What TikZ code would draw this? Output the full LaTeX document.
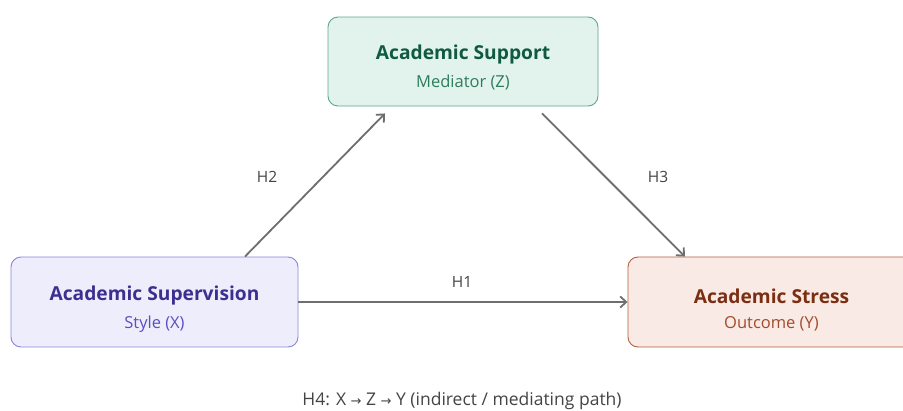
\documentclass[tikz,border=0pt]{standalone}
\usepackage{fontspec}
\setmainfont{Open Sans}
\newfontfamily\arrowfont{DejaVu Sans}
\usetikzlibrary{arrows.meta}

\definecolor{zfill}{HTML}{E1F3EC}
\definecolor{zline}{HTML}{5FA88A}
\definecolor{ztitle}{HTML}{0F5A40}
\definecolor{zsub}{HTML}{2E7D5E}
\definecolor{xfill}{HTML}{EDEDFC}
\definecolor{xline}{HTML}{8A85D8}
\definecolor{xtitle}{HTML}{3C2F8F}
\definecolor{xsub}{HTML}{5A4FC0}
\definecolor{yfill}{HTML}{FAEAE5}
\definecolor{yline}{HTML}{B5603F}
\definecolor{ytitle}{HTML}{7A2E12}
\definecolor{ysub}{HTML}{A34A2A}
\definecolor{pathgray}{HTML}{6E6E6E}
\definecolor{labgray}{HTML}{444444}

\newcommand{\ttl}[1]{{\fontsize{19.2}{23}\selectfont\bfseries #1}}
\newcommand{\subt}[1]{{\fontsize{16.5}{20}\selectfont #1}}
\newcommand{\ar}{{\arrowfont\fontsize{13}{16}\selectfont →}}

\begin{document}
\begin{tikzpicture}[x=1pt, y=-1pt,
	varbox/.style={draw, rounded corners=10pt, line width=0.9pt, minimum width=287pt, minimum height=90pt, align=center, inner sep=0pt},
	path/.style={draw=pathgray, line width=1.8pt, -{Straight Barb[length=6pt,width=11pt,line width=1.8pt]}},
	hyp/.style={text=labgray, font=\fontsize{15.5}{18}\selectfont}]
	\useasboundingbox (0,0) rectangle (903,410);
	\fill[white] (0,0) rectangle (903,410);
	% variables
	\node[varbox, fill=zfill, draw=zline, minimum width=270pt, minimum height=89pt] (Z) at (463,61.5) {};
	\node[varbox, fill=xfill, draw=xline] (X) at (154.5,302) {};
	\node[varbox, fill=yfill, draw=yline] (Y) at (771.5,302) {};
	\node[text=ztitle] (Zt) at (463,55) {\ttl{Academic Support}};
	\node[text=zsub] (Zs) at (463,83) {\subt{Mediator (Z)}};
	\node[text=xtitle] (Xt) at (154.5,296) {\ttl{Academic Supervision}};
	\node[text=xsub] (Xs) at (154.5,324) {\subt{Style (X)}};
	\node[text=ytitle] (Yt) at (771.5,296) {\ttl{Academic Stress}};
	\node[text=ysub] (Ys) at (771.5,324) {\subt{Outcome (Y)}};
	% paths
	\draw[path] ([xshift=90.5pt]X.north) -- ([xshift=-78pt,yshift=-7pt]Z.south);
	\draw[path] ([xshift=79pt,yshift=-7pt]Z.south) -- ([xshift=-86.5pt]Y.north);
	\draw[path] (X.east) -- (Y.west);
	\node[hyp] (H2) at (267,177) {H2};
	\node[hyp] (H3) at (658,177) {H3};
	\node[hyp] (H1) at (462,282) {H1};
	\node[hyp, font=\fontsize{17.5}{20}\selectfont] (H4) at (462,401) {H4: X \ar{} Z \ar{} Y (indirect / mediating path)};
\end{tikzpicture}
\end{document}
